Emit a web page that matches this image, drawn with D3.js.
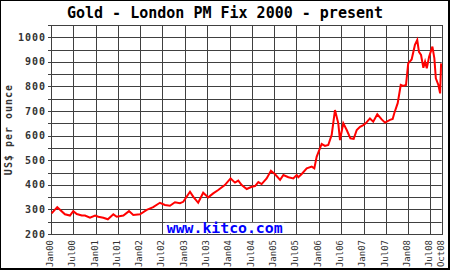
<!DOCTYPE html>
<html><head><meta charset="utf-8">
<script src="https://cdn.jsdelivr.net/npm/d3@7"></script>
<style>
html,body{margin:0;padding:0;background:#fff;}
svg{display:block;}
</style></head>
<body>
<script>
const title = "Gold - London PM Fix 2000 - present";
const yTitle = "US$ per ounce";
const watermark = "www.kitco.com";
const dates = ["2000-01-06","2000-02-21","2000-04-24","2000-06-04","2000-07-01","2000-07-30","2000-09-09","2000-10-05","2000-11-15","2000-12-27",
"2001-01-22","2001-03-04","2001-04-10","2001-05-25","2001-06-22","2001-08-15","2001-09-30","2001-11-04","2001-12-29",
"2002-02-22","2002-04-16","2002-06-10","2002-07-21","2002-08-31","2002-10-11","2002-11-21","2002-12-18",
"2003-02-11","2003-03-09","2003-04-19","2003-05-30","2003-07-10","2003-08-20","2003-09-30","2003-11-23",
"2004-01-09","2004-02-14","2004-03-12","2004-04-09","2004-05-20","2004-06-30","2004-07-27","2004-08-23","2004-09-19","2004-10-30","2004-12-04",
"2005-01-07","2005-02-17","2005-03-16","2005-04-26","2005-06-05","2005-07-03","2005-07-16","2005-08-13","2005-09-23","2005-11-03","2005-11-24","2005-12-13",
"2006-01-23","2006-02-19","2006-03-18","2006-04-15","2006-05-12","2006-06-08","2006-06-22","2006-07-19","2006-08-16","2006-09-15","2006-10-12","2006-11-06","2006-12-03","2006-12-30",
"2007-01-18","2007-02-22","2007-03-21","2007-04-23","2007-05-29","2007-06-25","2007-08-05","2007-08-27","2007-09-09","2007-10-07","2007-11-01","2007-11-22","2007-12-14",
"2008-01-01","2008-01-29","2008-02-25","2008-03-15","2008-03-29","2008-04-15","2008-05-04","2008-05-18","2008-06-01","2008-06-20","2008-07-17","2008-08-02","2008-08-14","2008-09-04","2008-09-18","2008-09-26"];
const prices = [284,309,280,275,293,281,275,275,266,275,
270,266,260,280,270,275,293,277,280,
298,309,327,318,315,329,325,331,
372,352,327,368,349,365,379,399,
426,409,417,399,383,392,395,411,403,426,457,
443,420,440,431,426,440,431,444,467,474,467,514,
566,558,562,603,704,650,582,650,623,589,587,623,636,643,
650,670,657,687,666,653,664,668,691,732,806,802,806,
894,910,969,989,941,928,876,901,874,921,962,914,833,806,772,894];
const xTickLabels = ["Jan00","Jul00","Jan01","Jul01","Jan02","Jul02","Jan03","Jul03","Jan04","Jul04","Jan05","Jul05","Jan06","Jul06","Jan07","Jul07","Jan08","Jul08","Oct08"];
const yTicks = [200,250,300,350,400,450,500,550,600,650,700,750,800,850,900,950,1000,1050];
const yLabels = [200,300,400,500,600,700,800,900,1000];

const W=450,H=270;
const L=51,R=441.7,T=25,B=234;
const parseD = d3.timeParse("%Y-%m-%d");
const parseM = d3.timeParse("%b%y");
const data = dates.map((d,i)=>({d:parseD(d),v:prices[i]}));

const x = d3.scaleTime().domain([new Date(2000,0,1), new Date(2008,9,1)]).range([L,R]);
const y = d3.scaleLinear().domain([200,1050]).range([B,T]);

const svg = d3.select("body").append("svg").attr("width",W).attr("height",H);
svg.append("rect").attr("width",W).attr("height",H).attr("fill","#fff");

const mono = "'DejaVu Sans Mono', 'Liberation Mono', monospace";
const grid = "#404040";

// horizontal grid
svg.append("g").selectAll("line").data(yTicks).join("line")
 .attr("x1",L-3).attr("x2",R).attr("y1",d=>Math.round(y(d))+0.5).attr("y2",d=>Math.round(y(d))+0.5)
 .attr("stroke",grid).attr("stroke-width",1);
// vertical grid
const xTickDates = xTickLabels.map(s=>parseM(s));
svg.append("g").selectAll("line").data(xTickDates).join("line")
 .attr("x1",d=>Math.round(x(d))+0.5).attr("x2",d=>Math.round(x(d))+0.5).attr("y1",T).attr("y2",B)
 .attr("stroke",grid).attr("stroke-width",1);
// plot border
svg.append("rect").attr("x",Math.round(L)+0.5).attr("y",Math.round(T)+0.5)
 .attr("width",Math.round(R)-Math.round(L)).attr("height",Math.round(B)-Math.round(T))
 .attr("fill","none").attr("stroke",grid).attr("stroke-width",1);

// watermark
svg.append("rect").attr("x",165).attr("y",222.8).attr("width",119).attr("height",10.7).attr("fill","#fff");
svg.append("text").attr("x",224.7).attr("y",233).attr("text-anchor","middle")
 .attr("font-family",mono).attr("font-weight","bold").attr("font-size",14.8).attr("fill","#0000ff").text(watermark);

// line
svg.append("path").datum(data).attr("fill","none").attr("stroke","#ff0000").attr("stroke-width",2)
 .attr("stroke-linejoin","miter")
 .attr("d",d3.line().x(d=>x(d.d)).y(d=>y(d.v)));

// y labels
svg.append("g").selectAll("text").data(yLabels).join("text")
 .attr("x",46).attr("y",d=>y(d)).attr("dy","0.36em").attr("text-anchor","end")
 .attr("font-family",mono).attr("font-weight","bold").attr("font-size",10).attr("letter-spacing",1)
 .attr("fill","#333").text(d=>d);

// y title
svg.append("text").attr("transform",`translate(12,${(T+B)/2}) rotate(-90)`).attr("text-anchor","middle")
 .attr("font-family",mono).attr("font-weight","bold").attr("font-size",10).attr("letter-spacing",1)
 .attr("fill","#333").text(yTitle);

// x labels
svg.append("g").selectAll("text").data(xTickLabels).join("text")
 .attr("transform",(s,i)=>`translate(${x(xTickDates[i])+1.8},240) rotate(-90)`)
 .attr("text-anchor","end").attr("font-family",mono).attr("font-size",9).attr("fill","#333").text(s=>s);

// title
svg.append("text").attr("x",225).attr("y",18).attr("text-anchor","middle")
 .attr("font-family",mono).attr("font-weight","bold").attr("font-size",15).attr("fill","#000").text(title);

// frame
svg.append("rect").attr("x",0.5).attr("y",0.5).attr("width",W-1).attr("height",H-1).attr("fill","none").attr("stroke","#000");
svg.append("line").attr("x1",448.5).attr("x2",448.5).attr("y1",1).attr("y2",H).attr("stroke","#000");
svg.append("line").attr("x1",1).attr("x2",W).attr("y1",268.5).attr("y2",268.5).attr("stroke","#000");
</script>
</body></html>
